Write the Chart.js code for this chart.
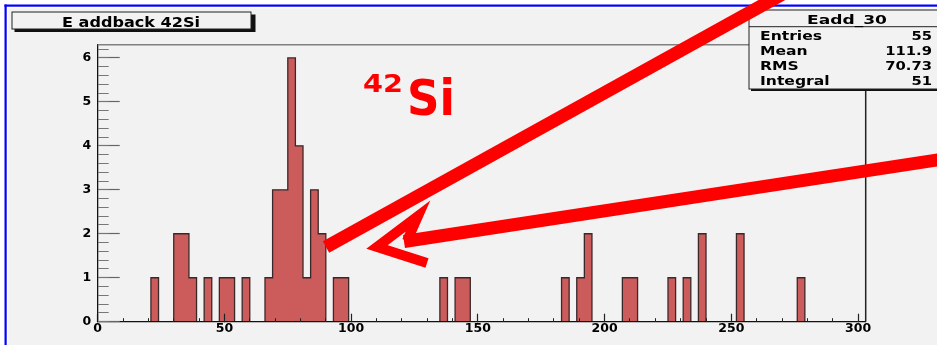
<!DOCTYPE html>
<html>
<head>
<meta charset="utf-8">
<script src="https://cdn.jsdelivr.net/npm/chart.js@4.4.1/dist/chart.umd.min.js"></script>
<style>
  html, body { margin: 0; padding: 0; background: #fff; }
  canvas { display: block; }
</style>
</head>
<body>
<canvas id="histo" width="937" height="345"></canvas>
<script>
// Eadd_30 : 101 bins of width 3 between 0 and 303
const binWidth = 3;
const xMin = 0;
const xMax = 303;
const yMax = 6.3;

const counts = [
  0, 0, 0, 0, 0, 0, 0, 1, 0, 0,
  2, 2, 1, 0, 1, 0, 1, 1, 0, 1,
  0, 0, 1, 3, 3, 6, 4, 1, 3, 2,
  0, 1, 1, 0, 0, 0, 0, 0, 0, 0,
  0, 0, 0, 0, 0, 1, 0, 1, 1, 0,
  0, 0, 0, 0, 0, 0, 0, 0, 0, 0,
  0, 1, 0, 1, 2, 0, 0, 0, 0, 1,
  1, 0, 0, 0, 0, 1, 0, 1, 0, 2,
  0, 0, 0, 0, 2, 0, 0, 0, 0, 0,
  0, 0, 1, 0, 0, 0, 0, 0, 0, 0,
  0
];

const histTitle = "E addback 42Si";
const statsTitle = "Eadd_30";
const statLabels = ["Entries", "Mean", "RMS", "Integral"];
const statValues = ["55", "111.9", "70.73", "51"];
const massNumber = "42";
const element = "Si";

// step outline: one point at the low edge of every bin, closed at xMax
const points = counts.map((c, i) => ({ x: xMin + i * binWidth, y: c }));
points.push({ x: xMax, y: 0 });

const FONT = "'DejaVu Sans', 'Liberation Sans', sans-serif";

// ROOT text looks wider than our fonts, so stretch it a bit
function wideText(ctx, txt, x, y, align, sx) {
  const w = ctx.measureText(txt).width * sx;
  let left = x;
  if (align === "center") left = x - w / 2;
  if (align === "right") left = x - w;
  ctx.save();
  ctx.translate(left, y);
  ctx.scale(sx, 1);
  ctx.textAlign = "left";
  ctx.textBaseline = "alphabetic";
  ctx.fillText(txt, 0, 0);
  ctx.restore();
}

// keep the label padding of an axis from eating into the plot
function fixSize(prop, val) {
  return (s) => {
    s[prop] = val;
    s.paddingTop = 0; s.paddingBottom = 0;
    s.paddingLeft = 0; s.paddingRight = 0;
  };
}

const padPlugin = {
  id: "pad",
  beforeDraw(chart) {
    const ctx = chart.ctx;
    const w = chart.width, h = chart.height;
    ctx.save();
    ctx.fillStyle = "#ffffff";
    ctx.fillRect(0, 0, w, h);
    ctx.fillStyle = "#f2f2f2";
    ctx.fillRect(8.5, 8.5, w, h);
    ctx.fillStyle = "#0000ff";
    ctx.fillRect(4.5, 4.5, w, 2.2);
    ctx.fillRect(4.5, 4.5, 2.2, h);
    ctx.restore();
  },
  afterDraw(chart) {
    const ctx = chart.ctx;
    const a = chart.chartArea;
    ctx.save();

    // frame
    ctx.lineWidth = 1.5;
    ctx.strokeStyle = "#808080";
    ctx.beginPath();
    ctx.moveTo(a.left, a.top);
    ctx.lineTo(a.right, a.top);
    ctx.stroke();
    ctx.strokeStyle = "#222";
    ctx.beginPath();
    ctx.moveTo(a.right, a.top);
    ctx.lineTo(a.right, a.bottom);
    ctx.stroke();

    // title box
    ctx.fillStyle = "#111";
    ctx.fillRect(14.5, 14.5, 241, 17.5);
    ctx.fillStyle = "#f2f2f2";
    ctx.fillRect(12, 12, 239, 17);
    ctx.strokeStyle = "#222";
    ctx.lineWidth = 1;
    ctx.strokeRect(12, 12, 239, 17);
    ctx.fillStyle = "#000";
    ctx.font = "bold 14px " + FONT;
    const tsx = 138 / ctx.measureText(histTitle).width;
    wideText(ctx, histTitle, 131, 26.5, "center", tsx);

    // stats box
    ctx.fillStyle = "#111";
    ctx.fillRect(751, 12, 200, 79);
    ctx.fillStyle = "#f2f2f2";
    ctx.fillRect(749, 10, 200, 79);
    ctx.strokeStyle = "#222";
    ctx.lineWidth = 1;
    ctx.strokeRect(749, 10, 200, 79);
    ctx.beginPath();
    ctx.moveTo(749, 26.7);
    ctx.lineTo(940, 26.7);
    ctx.stroke();
    ctx.fillStyle = "#000";
    ctx.font = "bold 13px " + FONT;
    wideText(ctx, statsTitle, 847, 23.5, "center", 80 / ctx.measureText(statsTitle).width);
    ctx.font = "bold 12px " + FONT;
    const ssx = 62 / ctx.measureText(statLabels[0]).width;
    statLabels.forEach((lab, i) => {
      const yb = 39.5 + i * 15.1;
      wideText(ctx, lab, 760, yb, "left", ssx);
      wideText(ctx, statValues[i], 932, yb, "right", ssx * 0.95);
    });

    // red annotation: 42Si
    ctx.fillStyle = "#ff0000";
    ctx.font = "bold 24px " + FONT;
    wideText(ctx, massNumber, 363, 92, "left", 40 / ctx.measureText(massNumber).width);
    ctx.font = "bold 50px " + FONT;
    wideText(ctx, element, 407, 115, "left", 48 / ctx.measureText(element).width);

    // red arrows
    ctx.strokeStyle = "#ff0000";
    ctx.lineCap = "butt";
    ctx.lineJoin = "miter";
    ctx.lineWidth = 13;
    ctx.beginPath();
    ctx.moveTo(326, 247);
    ctx.lineTo(790, -10);
    ctx.stroke();

    ctx.lineWidth = 10;
    ctx.beginPath();
    ctx.moveTo(427, 263);
    ctx.lineTo(377, 247);
    ctx.lineTo(418, 216);
    ctx.lineTo(407, 241);
    ctx.stroke();
    ctx.lineWidth = 13;
    ctx.beginPath();
    ctx.moveTo(404, 241.5);
    ctx.lineTo(950, 158);
    ctx.stroke();

    ctx.restore();
  }
};

const tickFont = { family: FONT, size: 12.5, weight: "bold" };

new Chart(document.getElementById("histo"), {
  type: "line",
  data: {
    datasets: [{
      data: points,
      stepped: "before",
      fill: "origin",
      backgroundColor: "#cc5c5c",
      borderColor: "#3a2828",
      borderWidth: 1.3,
      pointRadius: 0,
      xAxisID: "x",
      yAxisID: "y"
    }]
  },
  options: {
    responsive: false,
    animation: false,
    devicePixelRatio: 1,
    layout: { padding: { top: 44.7, right: 71.3, left: 0, bottom: 0 } },
    plugins: {
      legend: { display: false },
      tooltip: { enabled: false },
      title: { display: false }
    },
    scales: {
      x: {
        type: "linear",
        position: "bottom",
        min: xMin,
        max: xMax,
        weight: 1,
        grid: { drawOnChartArea: false, tickLength: -8, tickColor: "#222", tickWidth: 1.2, z: 1 },
        border: { display: true, color: "#111", width: 1.3, z: 1 },
        ticks: {
          stepSize: 50, includeBounds: false, padding: 8, autoSkip: false, maxRotation: 0,
          color: "#000", font: tickFont
        },
        afterFit: fixSize("height", 23.3)
      },
      xMinor: {
        type: "linear",
        position: "bottom",
        min: xMin,
        max: xMax,
        weight: 0,
        grid: { drawOnChartArea: false, tickLength: -3.5, tickColor: "#222", tickWidth: 1, z: 1 },
        border: { display: false },
        ticks: { display: false, stepSize: 10, includeBounds: false },
        afterFit: fixSize("height", 0)
      },
      y: {
        type: "linear",
        position: "left",
        min: 0,
        max: yMax,
        weight: 1,
        grid: { drawOnChartArea: false, tickLength: -22, tickColor: "#666", tickWidth: 1.2, z: 1 },
        border: { display: true, color: "#111", width: 1.3, z: 1 },
        ticks: {
          stepSize: 1, includeBounds: false, padding: 28.5, autoSkip: false,
          color: "#000", font: tickFont
        },
        afterFit: fixSize("width", 97.7)
      },
      yMinor: {
        type: "linear",
        position: "left",
        min: 0,
        max: yMax,
        weight: 0,
        grid: { drawOnChartArea: false, tickLength: -11, tickColor: "#777", tickWidth: 1, z: 1 },
        border: { display: false },
        ticks: { display: false, stepSize: 0.2, includeBounds: false },
        afterFit: fixSize("width", 0)
      }
    }
  },
  plugins: [padPlugin]
});
</script>
</body>
</html>
